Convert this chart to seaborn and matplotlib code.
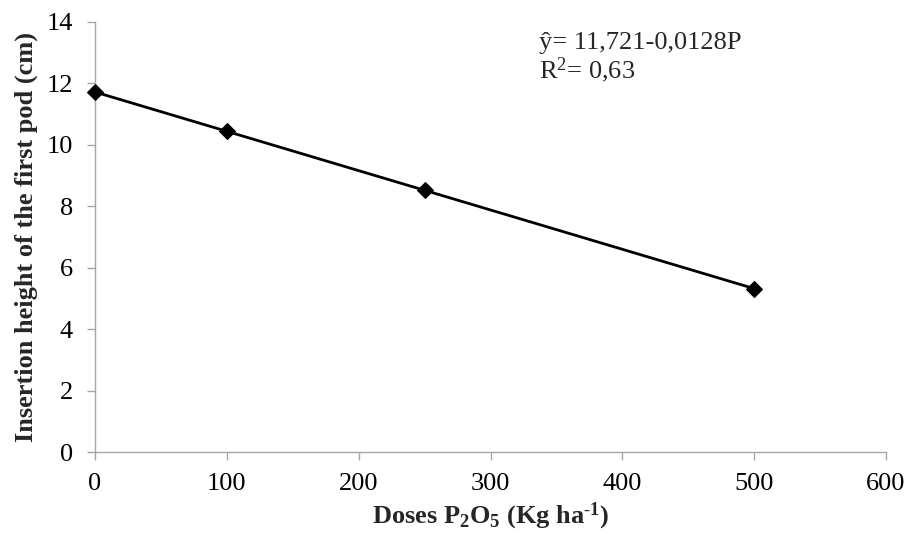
import matplotlib
matplotlib.use("Agg")
import matplotlib.pyplot as plt
import seaborn as sns
import pandas as pd

# data
doses = [0, 100, 250, 500]
heights = [11.72, 10.44, 8.52, 5.32]
x_ticks = [0, 100, 200, 300, 400, 500, 600]
y_ticks = [0, 2, 4, 6, 8, 10, 12, 14]

sns.set_style("ticks")
plt.rcParams["font.family"] = ["Liberation Serif", "DejaVu Serif"]
plt.rcParams["mathtext.fontset"] = "custom"
plt.rcParams["mathtext.rm"] = "Liberation Serif"
plt.rcParams["mathtext.it"] = "Liberation Serif:italic"
plt.rcParams["mathtext.bf"] = "Liberation Serif:bold"

df = pd.DataFrame({"dose": doses, "height": heights})

fig = plt.figure(figsize=(9.06, 5.36), dpi=100)
ax = fig.add_axes([0.1049, 0.1567, 0.873, 0.8023])

sns.lineplot(data=df, x="dose", y="height", ax=ax, color="black",
             linewidth=2.0, marker="D", markersize=8.5,
             markeredgecolor="black", markerfacecolor="black")
for line in ax.lines:
    line.set_clip_on(False)
    line.set_zorder(5)

ax.set_xlim(0, 600)
ax.set_ylim(0, 14)
ax.set_xticks(x_ticks)
ax.set_yticks(y_ticks)

for side in ["top", "right"]:
    ax.spines[side].set_visible(False)
for side in ["left", "bottom"]:
    ax.spines[side].set_color("#a6a6a6")
    ax.spines[side].set_linewidth(1.0)
ax.tick_params(axis="both", colors="#a6a6a6", length=6, width=1.0,
               labelsize=19, labelcolor="black")
ax.tick_params(axis="y", pad=10)
ax.tick_params(axis="x", pad=9)

ax.set_xlabel(r"Doses P$_{\mathbf{2}}$O$_{\mathbf{5}}$ (Kg ha$^{\text{-}\mathbf{1}}$)",
              fontsize=19, fontweight="bold", labelpad=4)
ax.set_ylabel("Insertion height of the first pod (cm)",
              fontsize=19, fontweight="bold", labelpad=6)

ax.text(337, 13.3, "ŷ= 11,721-0,0128P", fontsize=19, va="center")
ax.text(337, 12.42, r"R$^{2}$= 0,63", fontsize=19, va="center")

fig.savefig("out.png", dpi=100, facecolor="white")
